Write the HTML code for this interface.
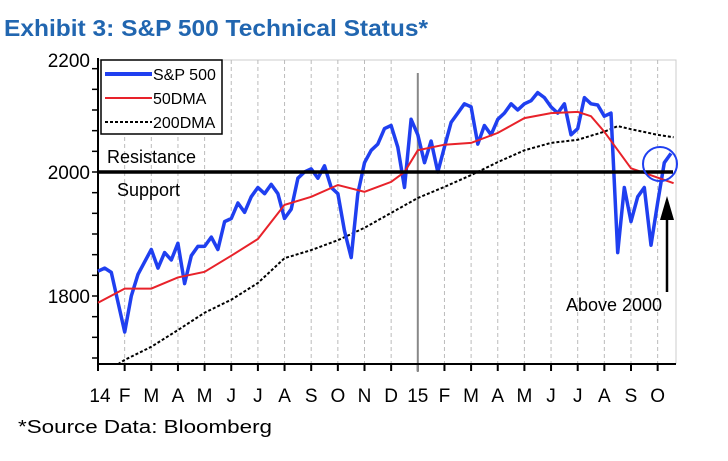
<!DOCTYPE html>
<html><head><meta charset="utf-8"><style>
body{margin:0;background:#fff;width:728px;height:456px;overflow:hidden;font-family:"Liberation Sans",sans-serif}
</style></head><body>
<svg width="728" height="456" xmlns="http://www.w3.org/2000/svg">
<text x="4" y="36" font-family="Liberation Sans" font-weight="bold" font-size="23" fill="#2166b0" textLength="424" lengthAdjust="spacingAndGlyphs">Exhibit 3: S&amp;P 500 Technical Status*</text>
<g id="g"></g>
<text x="18" y="433" font-size="18" fill="#000" textLength="254" lengthAdjust="spacingAndGlyphs">*Source Data: Bloomberg</text>
</svg>
<script>
const monthLabels=["14","F","M","A","M","J","J","A","S","O","N","D","15","F","M","A","M","J","J","A","S","O"];
const yTicks=[1800,2000,2200];
const spx=[1840,1845,1838,1790,1742,1800,1835,1855,1875,1845,1870,1858,1885,1820,1865,1880,1880,1895,1875,1920,1925,1950,1935,1960,1975,1965,1980,1965,1925,1940,1990,2000,2005,1990,2010,1975,1965,1905,1862,1965,2015,2035,2045,2070,2075,2040,1975,2085,2060,2015,2050,2000,2040,2080,2095,2110,2105,2045,2075,2060,2085,2095,2110,2100,2110,2115,2128,2120,2105,2095,2110,2060,2070,2120,2110,2108,2090,2095,1870,1975,1920,1960,1975,1882,1950,2015,2030];
const spxT=spx.map((_,i)=>i*0.25);
const dma50T=[0,1,2,3,4,5,6,7,8,9,10,11,11.5,12,13,14,15,16,17,18,18.5,19,20,21.6];
const dma50=[1789,1812,1812,1830,1839,1865,1892,1947,1960,1979,1968,1984,2000,2035,2044,2047,2063,2087,2095,2097,2090,2065,2006,1982];
const dma200T=[0.75,1,2,3,4,5,6,7,8,9,10,11,12,13,14,15,16,17,18,19,19.5,20,21,21.6];
const dma200=[1690,1697,1718,1745,1773,1794,1821,1861,1874,1890,1910,1934,1958,1976,1995,2016,2035,2047,2052,2065,2074,2069,2060,2056];
const X0=98,X1=676,Y0=60,Y1=364,MW=26.65;
const x=t=>X0+t*MW;
const y=v=>172-(v-2000)*0.62;
const g=document.getElementById('g');const NS="http://www.w3.org/2000/svg";
function mk(tag,attrs,name){const e=document.createElementNS(NS,tag);for(const k in attrs)e.setAttribute(k,attrs[k]);g.appendChild(e);return e;}
mk('polyline',{points:`${X0},${Y0} ${X1},${Y0} ${X1},${Y1}`,fill:'none',stroke:'#ccc','stroke-width':1},'plot-frame');
monthLabels.forEach((m,i)=>{
  const xx=x(i);
  if(i>0&&i!==12){mk('line',{x1:xx,y1:Y0,x2:xx,y2:Y1,stroke:'#bbb','stroke-dasharray':'4,3','stroke-width':1},'month-gridline');}
  mk('line',{x1:xx,y1:Y1,x2:xx,y2:Y1+7,stroke:'#000','stroke-width':2},'x-tick');
  const t=mk('text',{x:xx+(i===0?2:0),y:402,'font-size':19,'text-anchor':'middle',fill:'#000'},'x-tick-label');t.textContent=m;
});
mk('line',{x1:x(12),y1:73,x2:x(12),y2:Y1+8,stroke:'#888','stroke-width':2},'year-divider');
for(let v=1700;v<=2200;v+=100/3){const yy=y(v);if(yy<Y0-1||yy>Y1)continue;mk('line',{x1:X0-6,y1:yy,x2:X0,y2:yy,stroke:'#000','stroke-width':1.5},'y-tick');}
yTicks.forEach(v=>{const t=mk('text',{x:X0-8,y:Math.max(y(v),Y0)+7,'font-size':19,'text-anchor':'end',fill:'#000'},'y-tick-label');t.textContent=v;});
mk('line',{x1:X0,y1:Y0-2,x2:X0,y2:Y1,stroke:'#000','stroke-width':2},'y-axis');
mk('line',{x1:X0,y1:Y1,x2:X1,y2:Y1,stroke:'#000','stroke-width':2},'x-axis');
const pts=(ts,vs)=>ts.map((t,i)=>x(t).toFixed(1)+','+y(vs[i]).toFixed(1)).join(' ');
mk('polyline',{points:pts(dma200T,dma200),fill:'none',stroke:'#000','stroke-width':2,'stroke-dasharray':'3,2'},'dma200-line');
mk('polyline',{points:pts(spxT,spx),fill:'none',stroke:'#1f3ff0','stroke-width':3.5,'stroke-linejoin':'round'},'spx-line');
mk('polyline',{points:pts(dma50T,dma50),fill:'none',stroke:'#e8222a','stroke-width':2},'dma50-line');
mk('line',{x1:X0,y1:y(2000),x2:X1-3,y2:y(2000),stroke:'#000','stroke-width':3.5},'resistance-support-line');
let t=mk('text',{x:107,y:163,'font-size':18,fill:'#000'},'resistance-label');t.textContent='Resistance';
t=mk('text',{x:117,y:196,'font-size':18,fill:'#000'},'support-label');t.textContent='Support';
mk('circle',{cx:660,cy:164,r:17,fill:'none',stroke:'#1f3ff0','stroke-width':2},'highlight-circle');
mk('line',{x1:667,y1:292,x2:667,y2:220,stroke:'#000','stroke-width':2.5},'arrow-shaft');
mk('polygon',{points:'667,196 660,220 674,220',fill:'#000'},'arrow-head');
t=mk('text',{x:614,y:311,'font-size':18,'text-anchor':'middle',fill:'#000'},'annotation-above-2000');t.textContent='Above 2000';
mk('rect',{x:101,y:60,width:121,height:74,fill:'#fff',stroke:'#000','stroke-width':1.5},'legend-box');
const leg=[['S&P 500','#1f3ff0',4,''],['50DMA','#e8222a',2,''],['200DMA','#000',2,'3,2']];
leg.forEach((l,i)=>{const yy=74+i*24;
  mk('line',{x1:105,y1:yy,x2:152,y2:yy,stroke:l[1],'stroke-width':l[2],'stroke-dasharray':l[3]||'none'},'legend-swatch');
  const tt=mk('text',{x:153,y:yy+6,'font-size':16,fill:'#000'},'legend-entry');tt.textContent=l[0];});
</script>
</body></html>
